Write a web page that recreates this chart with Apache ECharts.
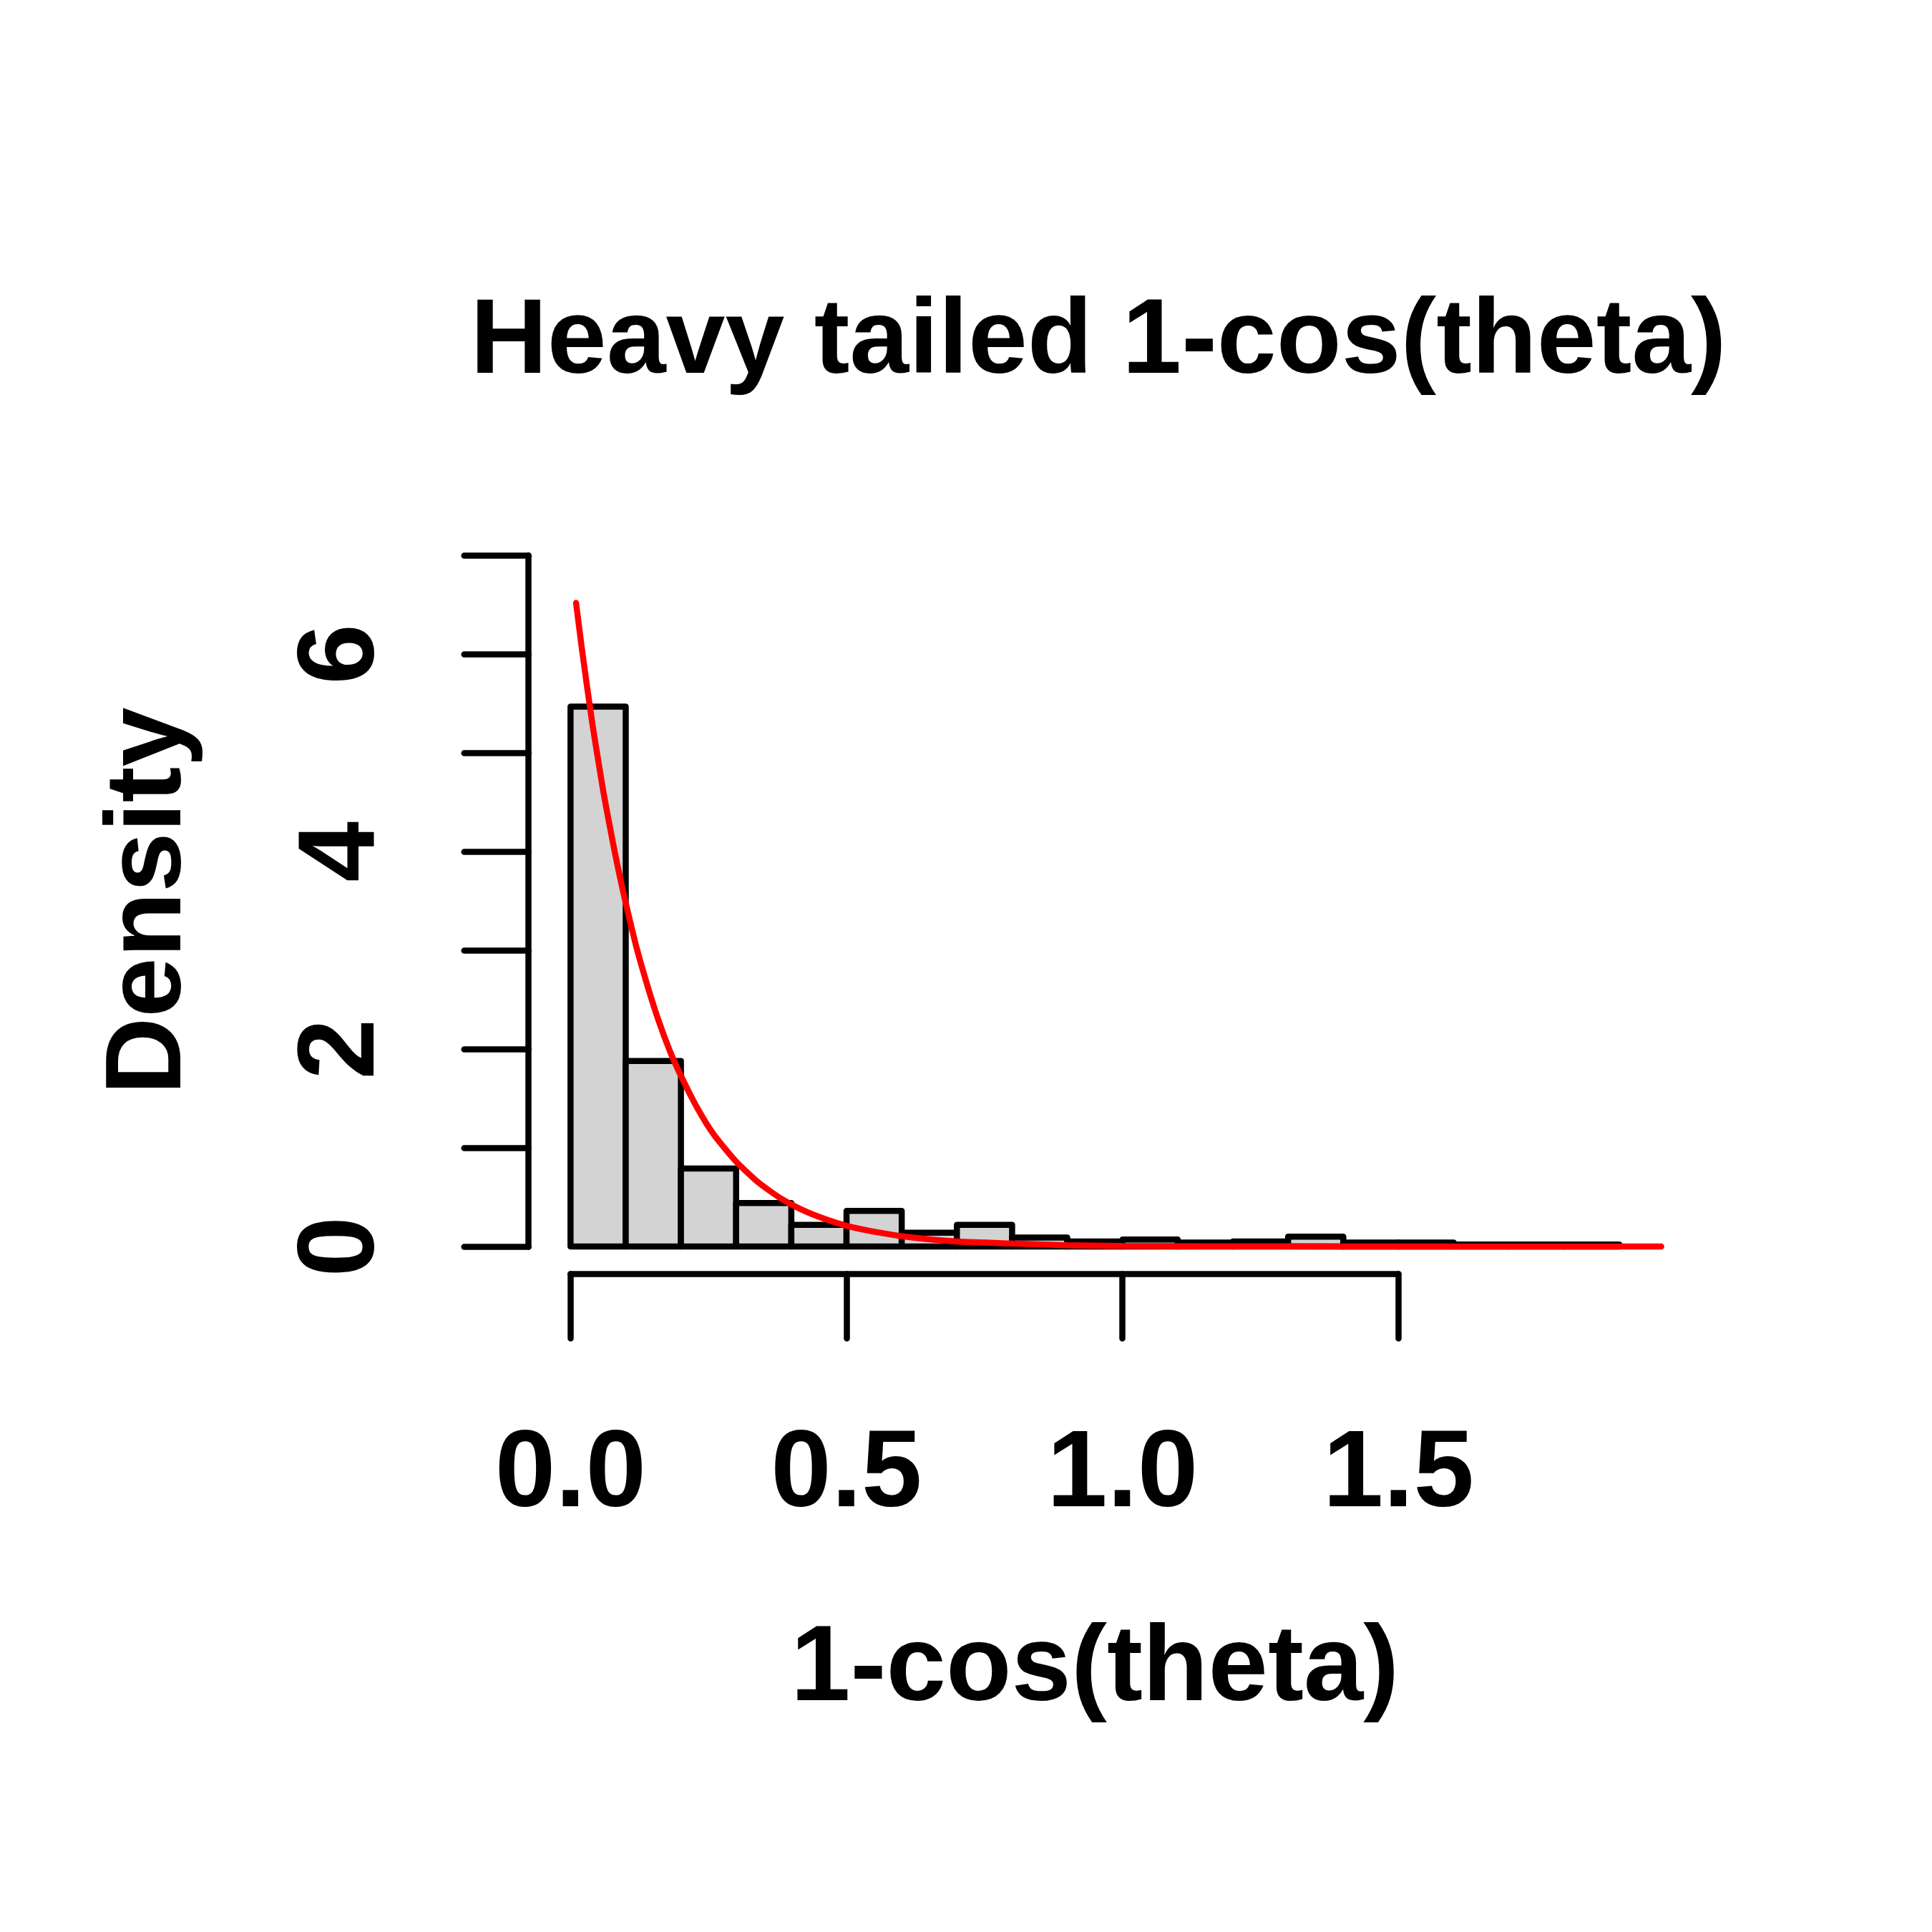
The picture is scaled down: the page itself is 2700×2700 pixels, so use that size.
<!DOCTYPE html>
<html>
<head>
<meta charset="utf-8">
<script src="https://cdn.jsdelivr.net/npm/echarts@6/dist/echarts.min.js"></script>
<style>
html,body{margin:0;padding:0;background:#fff;}
#chart{width:2700px;height:2700px;}
</style>
</head>
<body>
<div id="chart"></div>
<script>
// Histogram bins (left edges, width 0.1) and densities
const binStarts = [0.0,0.1,0.2,0.3,0.4,0.5,0.6,0.7,0.8,0.9,1.0,1.1,1.2,1.3,1.4,1.5,1.6,1.7,1.8];
const binWidth = 0.1;
const densities = [5.47,1.88,0.79,0.44,0.22,0.36,0.14,0.22,0.09,0.05,0.07,0.04,0.05,0.10,0.04,0.04,0.02,0.02,0.02];
// Red density curve
const curveX = [0.01,0.02,0.03,0.04,0.05,0.06,0.07,0.08,0.09,0.10,0.12,0.14,0.16,0.18,0.20,0.23,0.26,0.30,0.34,0.38,0.42,0.46,0.50,0.56,0.62,0.70,0.80,0.90,1.00,1.15,1.30,1.50,1.75,1.976];
const curveY = [6.52,6.08,5.67,5.28,4.93,4.59,4.29,4.00,3.73,3.48,3.02,2.63,2.28,1.98,1.73,1.40,1.13,0.86,0.65,0.49,0.37,0.28,0.21,0.14,0.09,0.05,0.03,0.013,0.006,0.002,0.001,0.0,0.0,0.0];
// Axis ticks
const xTicks = [0.0,0.5,1.0,1.5];
const yTickMax = 7;
const yLabelled = [0,2,4,6];

const titleText = 'Heavy tailed 1-cos(theta)';
const xName = '1-cos(theta)';
const yName = 'Density';

const FONT = 'Liberation Sans';
const LW = 8.5;
const FS = 152;

const histData = binStarts.map((s,i)=>[s, s+binWidth, densities[i]]);
const curveData = curveX.map((x,i)=>[x, curveY[i]]);

const chart = echarts.init(document.getElementById('chart'), null, {renderer:'canvas', width:2700, height:2700, devicePixelRatio:1});

const hidden = {show:false};
const option = {
  backgroundColor:'#ffffff',
  animation:false,
  title:{
    text:titleText,
    left:1530, top:400, textAlign:'center',
    textStyle:{fontFamily:FONT, fontWeight:'bold', fontSize:149, color:'#000'}
  },
  grid:[
    {left:738.7, right:378.4, top:737.7, bottom:919.4, containLabel:false},
    {left:738.7, right:378.4, top:776.3, bottom:957.7, containLabel:false},
    {left:797.3, right:745.6, top:737.7, bottom:919.4, containLabel:false}
  ],
  xAxis:[
    {gridIndex:0, type:'value', min:-0.076, max:1.976,
     axisLine:hidden, axisTick:hidden, axisLabel:hidden, splitLine:hidden,
     name:xName, nameLocation:'middle', nameGap:479,
     nameTextStyle:{fontFamily:FONT, fontWeight:'bold', fontSize:150, color:'#000'}},
    {gridIndex:1, type:'value', min:0, max:1, show:false},
    {gridIndex:2, type:'value', min:xTicks[0], max:xTicks[xTicks.length-1], interval:0.5,
     axisLine:{show:true, onZero:false, lineStyle:{color:'#000', width:LW, cap:'round'}},
     axisTick:{show:true, inside:false, length:90, lineStyle:{color:'#000', width:LW, cap:'round'}},
     axisLabel:{show:true, margin:206, formatter:v=>v.toFixed(1),
       fontFamily:FONT, fontWeight:'bold', fontSize:FS, color:'#000'},
     splitLine:hidden}
  ],
  yAxis:[
    {gridIndex:0, type:'value', min:-0.28, max:7.28,
     axisLine:hidden, axisTick:hidden, axisLabel:hidden, splitLine:hidden,
     name:yName, nameLocation:'middle', nameGap:453,
     nameTextStyle:{fontFamily:FONT, fontWeight:'bold', fontSize:150, color:'#000'}},
    {gridIndex:1, type:'value', min:0, max:yTickMax, interval:1,
     axisLine:{show:true, onZero:false, lineStyle:{color:'#000', width:LW, cap:'round'}},
     axisTick:{show:true, inside:false, length:90, lineStyle:{color:'#000', width:LW, cap:'round'}},
     axisLabel:{show:true, rotate:90, margin:183,
       formatter:v=> yLabelled.indexOf(v)>=0 ? String(v) : '',
       fontFamily:FONT, fontWeight:'bold', fontSize:FS, color:'#000'},
     splitLine:hidden},
    {gridIndex:2, type:'value', min:0, max:1, show:false}
  ],
  series:[
    {
      type:'custom', xAxisIndex:0, yAxisIndex:0,
      data:histData,
      encode:{x:[0,1], y:2},
      clip:false,
      renderItem:function(params, api){
        const p0 = api.coord([api.value(0), 0]);
        const p1 = api.coord([api.value(1), api.value(2)]);
        return {
          type:'rect',
          shape:{x:p0[0], y:p1[1], width:p1[0]-p0[0], height:p0[1]-p1[1]},
          style:{fill:'#d3d3d3', stroke:'#000', lineWidth:LW, lineJoin:'round'}
        };
      }
    },
    {
      type:'line', xAxisIndex:0, yAxisIndex:0,
      data:curveData, showSymbol:false, symbol:'none',
      smooth:0.2, clip:false,
      lineStyle:{color:'#ff0000', width:LW, cap:'round'},
      z:5
    }
  ]
};
chart.setOption(option);
</script>
</body>
</html>
